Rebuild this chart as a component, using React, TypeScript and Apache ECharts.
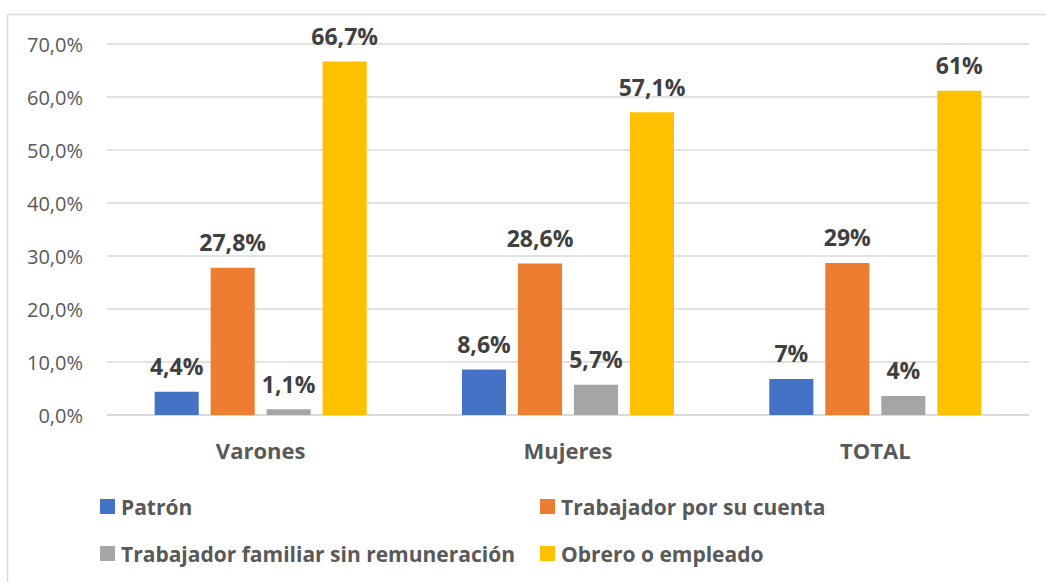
import React, { useEffect, useRef } from "react";
import * as echarts from "echarts";

const categories = ["Varones", "Mujeres", "TOTAL"];
const seriesNames = [
  "Patrón",
  "Trabajador por su cuenta",
  "Trabajador familiar sin remuneración",
  "Obrero o empleado",
];
const patron = [4.4, 8.6, 6.8];
const cuentaPropia = [27.8, 28.6, 28.7];
const familiar = [1.1, 5.7, 3.6];
const obrero = [66.7, 57.1, 61.2];
const patronLabels = ["4,4%", "8,6%", "7%"];
const cuentaPropiaLabels = ["27,8%", "28,6%", "29%"];
const familiarLabels = ["1,1%", "5,7%", "4%"];
const obreroLabels = ["66,7%", "57,1%", "61%"];
const yTicks = [0, 10, 20, 30, 40, 50, 60, 70];
const colors = ["#4472C4", "#ED7D31", "#A5A5A5", "#FFC000"];

const FONT = "'Open Sans', sans-serif";

export default function App() {
  const ref = useRef<HTMLDivElement>(null);
  useEffect(() => {
    if (!ref.current) return;
    const chart = echarts.init(ref.current, null, { renderer: "svg" });
    const values = [patron, cuentaPropia, familiar, obrero];
    const labels = [patronLabels, cuentaPropiaLabels, familiarLabels, obreroLabels];
    const legendText = {
      fontFamily: FONT,
      fontSize: 21,
      fontWeight: "bold",
      color: "#595959",
      lineHeight: 21,
      padding: [0, 0, 0, 1],
    };
    chart.setOption({
      animation: false,
      textStyle: { fontFamily: FONT },
      graphic: [
        {
          type: "rect",
          shape: { x: 7.5, y: 14.5, width: 1200, height: 800 },
          style: { fill: "none", stroke: "#D9D9D9", lineWidth: 1.5 },
          silent: true,
        },
      ],
      grid: { left: 107, right: 17, top: 44, bottom: 167 },
      legend: [
        {
          data: [seriesNames[0], seriesNames[2]],
          orient: "vertical",
          left: 95,
          top: 491,
          icon: "rect",
          itemWidth: 15,
          itemHeight: 15,
          itemGap: 26,
          textStyle: legendText,
        },
        {
          data: [seriesNames[1], seriesNames[3]],
          orient: "vertical",
          left: 535,
          top: 491,
          icon: "rect",
          itemWidth: 15,
          itemHeight: 15,
          itemGap: 26,
          textStyle: legendText,
        },
      ],
      xAxis: {
        type: "category",
        data: categories,
        axisLine: { lineStyle: { color: "#D9D9D9", width: 1.5 } },
        axisTick: { show: false },
        axisLabel: {
          margin: 24,
          fontFamily: FONT,
          fontSize: 22,
          fontWeight: "bold",
          color: "#595959",
        },
      },
      yAxis: {
        type: "value",
        min: yTicks[0],
        max: yTicks[yTicks.length - 1],
        interval: 10,
        axisLine: { show: false },
        axisTick: { show: false },
        splitLine: { lineStyle: { color: "#D9D9D9", width: 1.5 } },
        axisLabel: {
          margin: 24,
          fontFamily: FONT,
          fontSize: 20,
          color: "#595959",
          formatter: (v: number) => v.toFixed(1).replace(".", ",") + "%",
        },
      },
      series: values.map((vals, i) => ({
        name: seriesNames[i],
        type: "bar",
        data: vals,
        barCategoryGap: "31%",
        barGap: "27%",
        itemStyle: { color: colors[i] },
        label: {
          show: true,
          position: "top",
          distance: 14,
          fontFamily: FONT,
          fontSize: 23,
          fontWeight: "bold",
          color: "#404040",
          formatter: (p: any) => labels[i][p.dataIndex],
        },
      })),
    });
    return () => chart.dispose();
  }, []);
  return (
    <div
      ref={ref}
      style={{ position: "absolute", left: 0, top: 0, width: 1046, height: 582, background: "#fff" }}
    />
  );
}
